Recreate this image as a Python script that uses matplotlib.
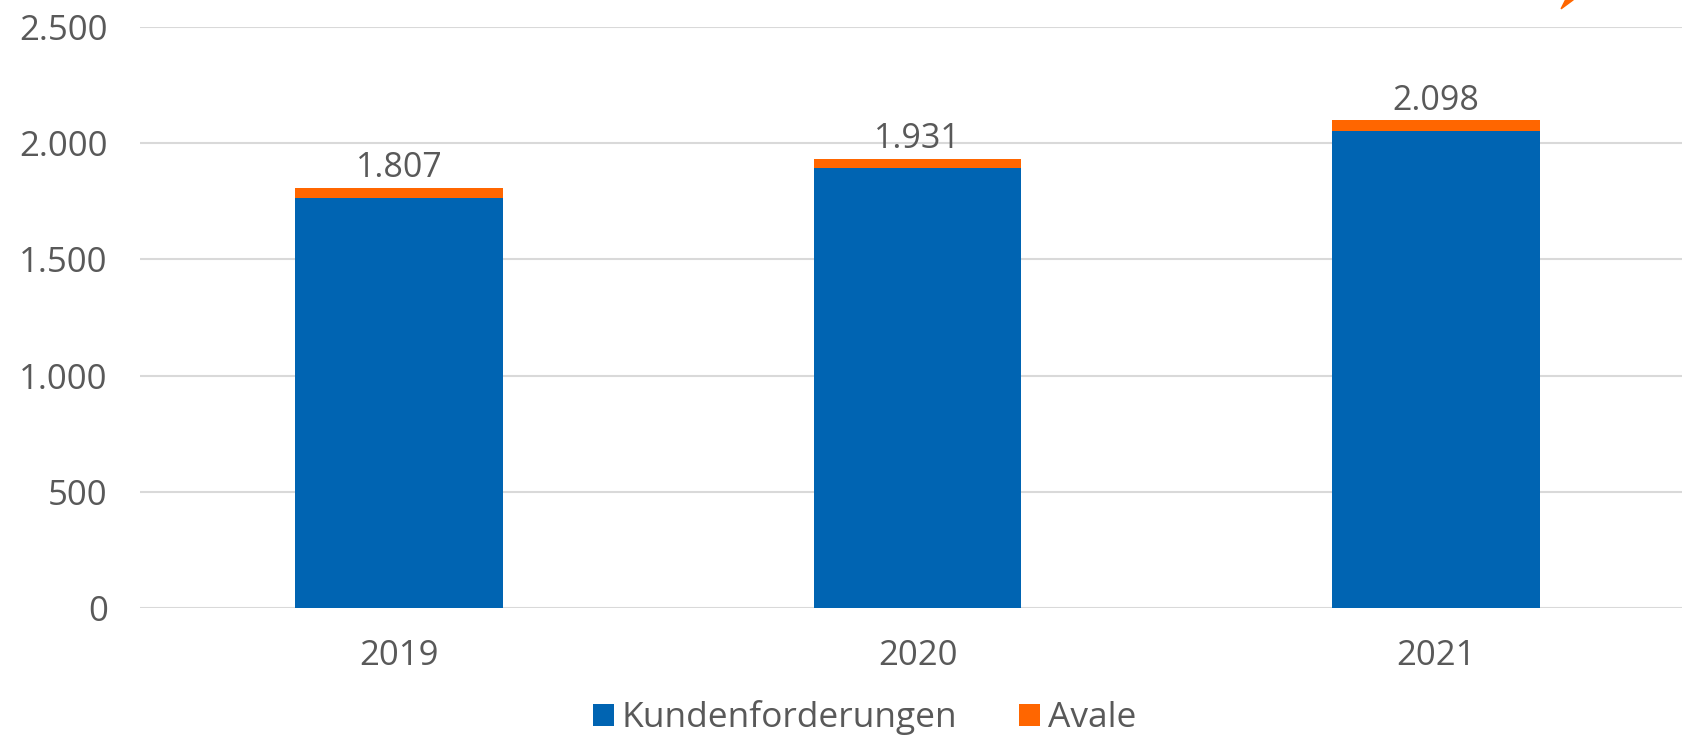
import matplotlib.pyplot as plt
from matplotlib.patches import Polygon

plt.rcParams['font.family'] = ['Open Sans', 'DejaVu Sans']

# -----------------------------------------
# DATA
# -----------------------------------------
years = ['2019', '2020', '2021']
kundenforderungen = [1766, 1891, 2051]
avale = [41, 40, 47]
totals = [1807, 1931, 2098]
y_ticks = [0, 500, 1000, 1500, 2000, 2500]

BLUE = '#0064B2'
ORANGE = '#FF6600'
TEXT = '#595959'
GRID = '#D9D9D9'

# -----------------------------------------
# FIGURE
# -----------------------------------------
fig = plt.figure(figsize=(16.82, 7.37), dpi=100)
ax = fig.add_axes([0.083, 0.175, 0.925, 0.7885])

x = range(len(years))

ax.bar(x, kundenforderungen, width=0.4, color=BLUE,
       label='Kundenforderungen', zorder=3)
ax.bar(x, avale, width=0.4, bottom=kundenforderungen, color=ORANGE,
       label='Avale', zorder=3)

for i, total in enumerate(totals):
    ax.annotate(f"{total:,}".replace(',', '.'), (i, total),
                xytext=(0, 2), textcoords='offset points',
                ha='center', va='bottom', fontsize=24.5, color=TEXT)

ax.set_xlim(-0.5, 2.5)
ax.set_ylim(0, 2500)
ax.set_xticks(list(x))
ax.set_xticklabels(years)
ax.set_yticks(y_ticks)
ax.set_yticklabels([f"{t:,}".replace(',', '.') for t in y_ticks])

ax.tick_params(axis='both', length=0, labelsize=25, labelcolor=TEXT)
ax.tick_params(axis='y', pad=23)
ax.tick_params(axis='x', pad=22)

ax.yaxis.grid(True, color=GRID, linewidth=1.5, zorder=0)
ax.set_axisbelow(True)
for side in ['top', 'right', 'left', 'bottom']:
    ax.spines[side].set_visible(False)

fig.legend(loc='center', bbox_to_anchor=(0.514, 0.026), ncol=2,
           frameon=False, fontsize=25.5, labelcolor=TEXT,
           handlelength=0.6, handleheight=0.6, handletextpad=0.22,
           columnspacing=1.75)

# small orange arrow tip at the top right (decoration)
fig.patches.append(Polygon([(0.9281, 0.988), (0.9352, 1.0), (0.9352, 1.02)],
                           closed=True, transform=fig.transFigure,
                           color=ORANGE))

plt.savefig("out.png", dpi=100)
